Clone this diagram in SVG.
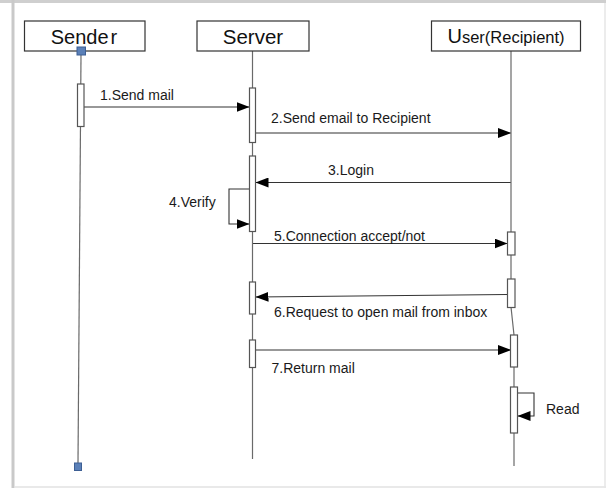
<svg xmlns="http://www.w3.org/2000/svg" width="606" height="488" viewBox="0 0 606 488">
<style>
  .box{fill:#fff;stroke:#333;stroke-width:1.2}
  .life{fill:none;stroke:#6a6a6a;stroke-width:1.2}
  .bar{fill:#fff;stroke:#555;stroke-width:1.2}
  .msg{fill:none;stroke:#333;stroke-width:1.1}
  .title{font-family:"Liberation Sans",Arial,sans-serif;fill:#111}
  .lbl{font-family:"Liberation Sans",Arial,sans-serif;font-size:14px;fill:#1a1a1a}
  .sq{fill:#5b80b8;stroke:#3d5f94;stroke-width:1}
</style>
<defs>
  <marker id="ah" markerUnits="userSpaceOnUse" markerWidth="14" markerHeight="10" refX="13" refY="5" orient="auto">
    <path d="M0,0 L13,5 L0,10 Z" fill="#000"/>
  </marker>
</defs>
<rect x="0" y="0" width="606" height="488" fill="#fff"/>
<rect x="0" y="0" width="606" height="3" fill="#cfcfcf"/>
<rect x="11.5" y="0" width="3" height="488" fill="#c9c9c9"/>
<line x1="14" y1="487" x2="606" y2="487" stroke="#e2e2e2" stroke-width="1.5"/>
<line x1="605" y1="3" x2="605" y2="488" stroke="#e6e6e6" stroke-width="1.5"/>

<g id="connectors">
  <line class="msg" x1="84" y1="107" x2="249.5" y2="107" marker-end="url(#ah)"/>
  <line class="msg" x1="255.5" y1="133" x2="511" y2="133" marker-end="url(#ah)"/>
  <line class="msg" x1="511" y1="182.5" x2="255.5" y2="182.5" marker-end="url(#ah)"/>
  <polyline class="msg" points="249.5,189 229,189 229,224 249.5,224" marker-end="url(#ah)"/>
  <line class="msg" x1="252.5" y1="243.5" x2="507.5" y2="243.5" marker-end="url(#ah)"/>
  <line class="msg" x1="507.5" y1="294.5" x2="255.5" y2="297" marker-end="url(#ah)"/>
  <line class="msg" x1="255.5" y1="350" x2="511" y2="350" marker-end="url(#ah)"/>
  <polyline class="msg" points="517.5,393 534,393 534,416 517.5,416" marker-end="url(#ah)"/>
</g>

<g id="sender">
  <line class="life" x1="81" y1="55" x2="78" y2="463"/>
  <rect class="box" x="24.5" y="21" width="120.5" height="30"/>
  <text class="title" x="84" y="43.5" font-size="20" text-anchor="middle">Sende<tspan dx="2">r</tspan></text>
  <rect class="sq" x="77" y="47" width="8.5" height="8"/>
  <rect class="sq" x="74.5" y="463" width="7" height="7.5"/>
  <rect class="bar" x="77.5" y="84" width="6.5" height="42.5"/>
</g>

<g id="server">
  <line class="life" x1="252.5" y1="51" x2="252.5" y2="459"/>
  <rect class="box" x="197" y="21" width="112" height="30"/>
  <text class="title" x="253" y="43.5" font-size="20.5" text-anchor="middle">Server</text>
  <rect class="bar" x="249.5" y="88" width="6" height="54.5"/>
  <rect class="bar" x="249.5" y="156" width="6" height="75.5"/>
  <rect class="bar" x="249.5" y="282" width="6" height="32"/>
  <rect class="bar" x="249.5" y="340" width="6" height="27.5"/>
</g>

<g id="user">
  <polyline class="life" points="511,51 511,307 514,335 514,466"/>
  <rect class="box" x="431.5" y="21" width="149" height="30"/>
  <text class="title" x="506" y="43" text-anchor="middle"><tspan font-size="20">U</tspan><tspan font-size="16.5">ser(Recipient)</tspan></text>
  <rect class="bar" x="507.5" y="232" width="7.5" height="23"/>
  <rect class="bar" x="507.5" y="279" width="7.5" height="28.5"/>
  <rect class="bar" x="510.5" y="335" width="7" height="32"/>
  <rect class="bar" x="510.5" y="387" width="7" height="46"/>
</g>

<g id="labels">
  <text class="lbl" x="100" y="100">1.Send mail</text>
  <text class="lbl" x="271" y="122.5">2.Send email to Recipient</text>
  <text class="lbl" x="328" y="175">3.Login</text>
  <text class="lbl" x="169" y="206.5">4.Verify</text>
  <text class="lbl" x="274" y="240.5">5.Connection accept/not</text>
  <text class="lbl" x="274" y="316.5">6.Request to open mail from inbox</text>
  <text class="lbl" x="271.5" y="372.5">7.Return mail</text>
  <text class="lbl" x="546" y="414">Read</text>
</g>
</svg>
